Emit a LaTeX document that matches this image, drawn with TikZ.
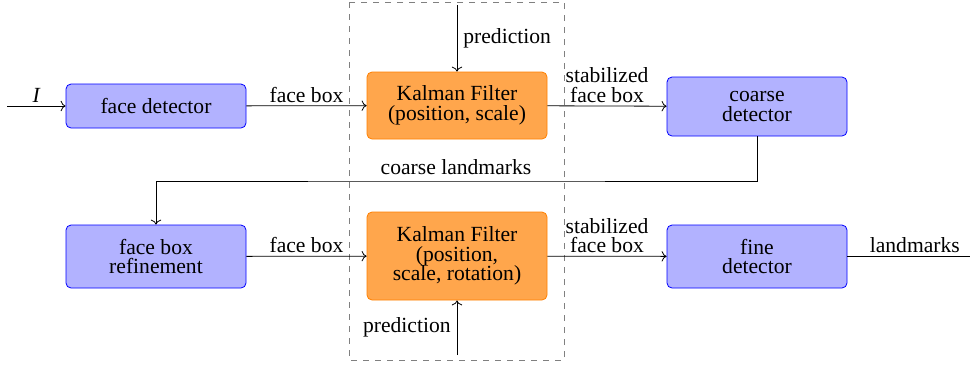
\documentclass[tikz,border=0pt]{standalone}
\usepackage{fontspec}
\setmainfont{Liberation Serif}
\usetikzlibrary{arrows.meta}
\begin{document}
\begin{tikzpicture}[x=0.5pt,y=-0.5pt,
  every node/.style={font=\rmfamily\fontsize{10.8}{9.8}\selectfont},
  blk/.style={draw=blue, fill=blue!30, rounded corners=2.5pt, minimum width=90pt, align=center, inner sep=0pt},
  kf/.style={draw=orange, fill=orange!70, rounded corners=2.5pt, minimum width=90pt, align=center, inner sep=0pt},
  lbl/.style={inner sep=1.5pt, align=center},
  arr/.style={->},
  grp/.style={draw=gray, dashed}
]
\useasboundingbox (0,0) rectangle (970,366);
\draw[grp] (349,2) rectangle (564,360);

\node[blk, minimum height=22pt] (fd) at (156,106) {face detector};
\node[kf, minimum height=33.5pt] (kf1) at (457,105.5) {Kalman Filter\\(position, scale)};
\node[blk, minimum height=29.5pt] (cd) at (757,106.5) {coarse\\detector};
\node[blk, minimum height=31.5pt] (fbr) at (156,256.5) {face box\\refinement};
\node[kf, minimum height=44pt] (kf2) at (457,256) {Kalman Filter\\(position,\\scale, rotation)};
\node[blk, minimum height=31.5pt] (fine) at (757,256.5) {fine\\detector};

\coordinate (in) at (7,106);
\coordinate (p1) at (457,5);
\coordinate (p2) at (457,355);
\coordinate (turn) at (456,181);
\coordinate (out) at (970,256.5);

\draw[arr] (in) -- node[lbl, above] {\itshape I} (fd);
\draw[arr] (fd) -- node[lbl, above] {face box} (kf1);
\draw[arr] (p1) -- node[lbl, right, inner sep=3pt] {prediction} (kf1.north);
\draw[arr] (kf1) -- node[lbl, above] {stabilized\\face box} (cd);
\draw[arr] (cd.south) |- (turn) node[lbl, above, inner sep=3pt] {coarse landmarks} -| (fbr.north);
\draw[arr] (fbr) -- node[lbl, above] {face box} (kf2);
\draw[arr] (p2) -- node[lbl, left, inner sep=3pt] {prediction} (kf2.south);
\draw[arr] (kf2) -- node[lbl, above] {stabilized\\face box} (fine);
\draw (fine) -- node[lbl, above, pos=0.55] {landmarks} (out);
\end{tikzpicture}
\end{document}
